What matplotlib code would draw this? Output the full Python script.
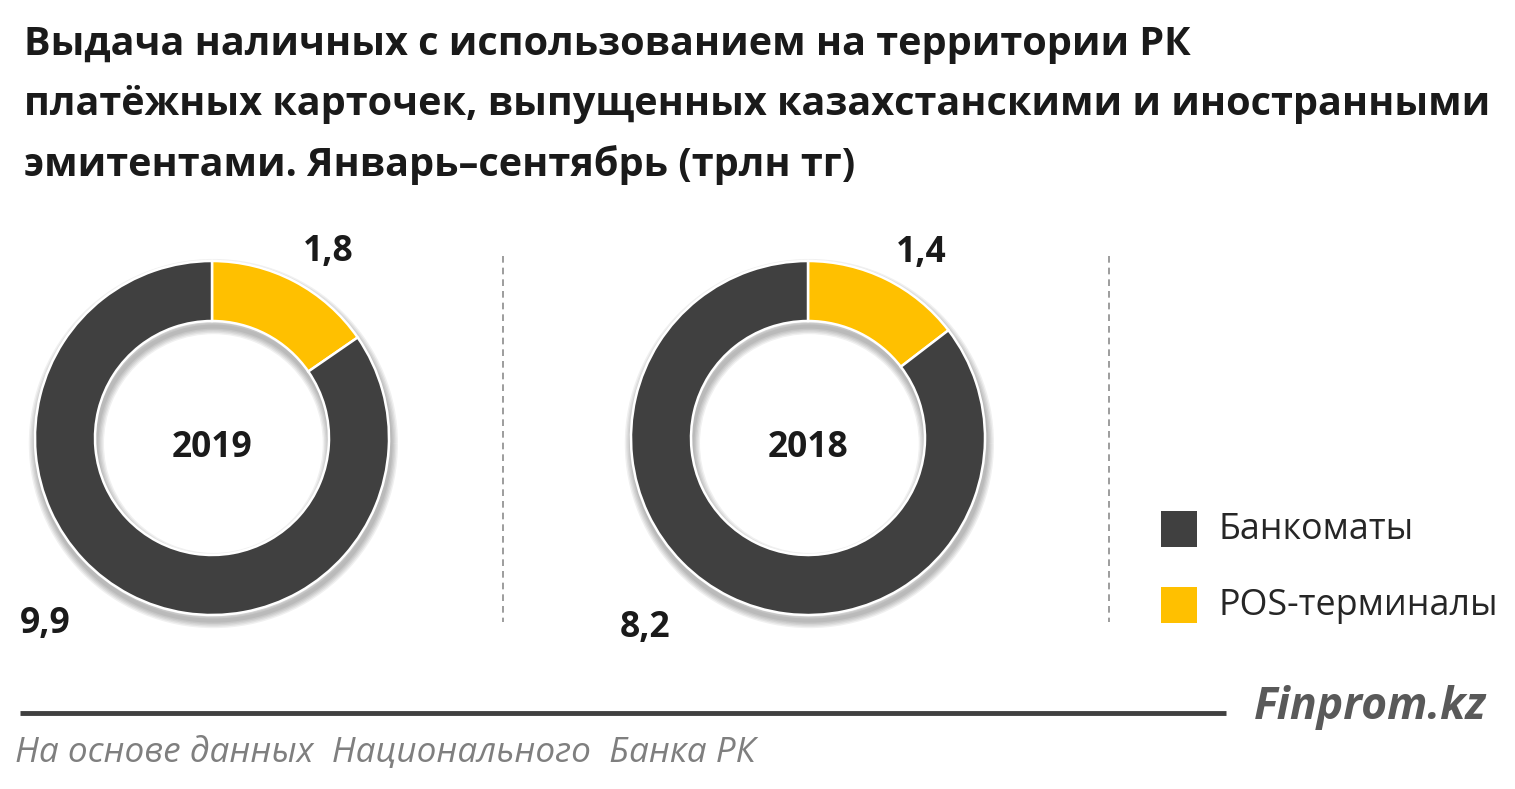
import matplotlib.pyplot as plt
import matplotlib.patheffects as pe
from matplotlib.patches import Rectangle

plt.rcParams['font.family'] = ['Open Sans', 'DejaVu Sans']

years = ['2019', '2018']
atm = [9.9, 8.2]
pos = [1.8, 1.4]
atm_labels = ['9,9', '8,2']
pos_labels = ['1,8', '1,4']
legend_names = ['Банкоматы', 'POS-терминалы']
title_lines = ['Выдача наличных с использованием на территории РК',
               'платёжных карточек, выпущенных казахстанскими и иностранными',
               'эмитентами. Январь–сентябрь (трлн тг)']

W, H = 1515, 789
dark = '#404040'
yellow = '#ffc000'
text_c = '#1a1a1a'

fig = plt.figure(figsize=(W / 100, H / 100), dpi=100)
bg = fig.add_axes([0, 0, 1, 1])
bg.set_xlim(0, W)
bg.set_ylim(H, 0)
bg.axis('off')

# заголовок
for i, line in enumerate(title_lines):
    bg.text(24, 44 + i * 60.5, line, fontsize=28.5, fontweight='bold', color=text_c, va='center')

# кольца
centers = [(212, 438), (808, 438)]
R = 177
pad = 30
ring_w = 60 / (R + pad)
for k, (cx, cy) in enumerate(centers):
    ax = fig.add_axes([(cx - R - pad) / W, 1 - (cy + R + pad) / H, (2 * R + 2 * pad) / W, (2 * R + 2 * pad) / H])

    # мягкая тень под кольцом
    shadow, _ = ax.pie([atm[k] + pos[k]], colors=['none'], radius=R / (R + pad),
                       wedgeprops=dict(width=ring_w, linewidth=0))
    effects = [pe.Stroke(linewidth=w, foreground='black', alpha=0.06, offset=(1, -4)) for w in [11, 9, 7, 5, 3]]
    shadow[0].set_path_effects(effects)

    wedges, _ = ax.pie([pos[k], atm[k]], colors=[yellow, dark], startangle=90, counterclock=False,
                       radius=R / (R + pad), wedgeprops=dict(width=ring_w, edgecolor='white', linewidth=1.8))
    ax.set_xlim(-1, 1)
    ax.set_ylim(-1, 1)
    ax.text(0, -0.05, years[k], fontsize=25.5, fontweight='bold', color=text_c, ha='center', va='center')

# подписи значений
bold = dict(fontsize=25.5, fontweight='bold', color=text_c, ha='center', va='center')
bg.text(328, 252, pos_labels[0], **bold)
bg.text(921, 253, pos_labels[1], **bold)
bg.text(45, 624, atm_labels[0], **bold)
bg.text(645, 628, atm_labels[1], **bold)

# разделители
for x in [503, 1109]:
    bg.plot([x, x], [256, 622], color='#8c8c8c', lw=1.2, ls=(0, (4, 3)))

# легенда
for i, (name, c) in enumerate(zip(legend_names, [dark, yellow])):
    y = 529 + i * 76
    bg.add_patch(Rectangle((1161, y - 18), 36, 36, color=c, lw=0))
    bg.text(1219, y + 1, name, fontsize=25.8, color='#262626', va='center')

# подвал
bg.plot([20, 1226], [713, 713], color='#404040', lw=3.5, solid_capstyle='butt')
bg.text(1486, 708, 'Finprom.kz', fontsize=32, fontweight='bold', fontstyle='italic', color='#595959', ha='right', va='center')
bg.text(15, 753, 'На основе данных  Национального  Банка РК', fontsize=25.3, fontstyle='italic', color='#7f7f7f', va='center')

fig.savefig('out.png', dpi=100)
